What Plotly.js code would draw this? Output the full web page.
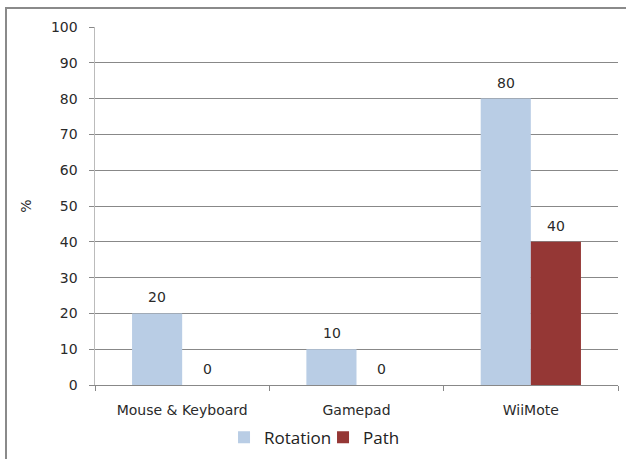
<!DOCTYPE html>
<html>
<head>
<meta charset="utf-8">
<script src="https://cdn.plot.ly/plotly-3.0.1.min.js"></script>
<style>
html,body{margin:0;padding:0;background:#fff;}
#wrap{position:relative;width:626px;height:459px;overflow:hidden;}
#chart{width:626px;height:459px;}
#frame{position:absolute;left:5px;top:7px;width:640px;height:480px;border:2px solid #8a8a8a;pointer-events:none;box-sizing:border-box;}
</style>
</head>
<body>
<div id="wrap"><div id="chart"></div><div id="frame"></div></div>
<script>
const categories = ["Mouse & Keyboard", "Gamepad", "WiiMote"];
const rotation = [20, 10, 80];
const path = [0, 0, 40];
const seriesNames = ["Rotation", "Path"];
const yTicks = [0, 10, 20, 30, 40, 50, 60, 70, 80, 90, 100];

const labelFont = {family: "DejaVu Sans", size: 14, color: "#2a2a2a"};

const traces = [
  {type: "bar", name: seriesNames[0], x: categories, y: rotation, marker: {color: "#B9CDE5"}},
  {type: "bar", name: seriesNames[1], x: categories, y: path, marker: {color: "#953735"}}
];

const annotations = [];
[rotation, path].forEach((vals, s) => {
  vals.forEach((v, i) => {
    annotations.push({x: categories[i], y: v, xref: "x", yref: "y", text: String(v),
      showarrow: false, xshift: s === 0 ? -25 : 25, yshift: 16, yanchor: "middle",
      font: labelFont});
  });
});

const layout = {
  width: 626, height: 459,
  margin: {l: 95, r: 8, t: 27, b: 74, autoexpand: false},
  paper_bgcolor: "#fff", plot_bgcolor: "#fff",
  barmode: "group", bargap: 0.425, bargroupgap: 0,
  showlegend: true,
  legend: {orientation: "h", x: 0.2467, xanchor: "left", y: -0.097, yanchor: "top",
           font: {family: "Open Sans", size: 17, color: "#222"}, traceorder: "normal",
           itemwidth: 30, entrywidth: 54, entrywidthmode: "pixels"},
  annotations: annotations,
  xaxis: {type: "category", tickfont: labelFont, showline: true, linecolor: "#888", linewidth: 1,
          ticks: "outside", tickson: "boundaries", ticklen: 5, tickcolor: "#888",
          ticklabelstandoff: 12, showgrid: false, zeroline: false},
  yaxis: {range: [0, 100], tickvals: yTicks, ticktext: yTicks.map(String), tickfont: labelFont,
          showgrid: true, gridcolor: "#888", gridwidth: 1, zeroline: false,
          showline: true, linecolor: "#bbb", linewidth: 1.5,
          ticks: "outside", ticklen: 5, tickcolor: "#888", ticklabelstandoff: 8,
          title: {text: "%", font: labelFont, standoff: 16}},
  font: labelFont
};

Plotly.newPlot("chart", traces, layout, {staticPlot: true, displayModeBar: false});
</script>
</body>
</html>
